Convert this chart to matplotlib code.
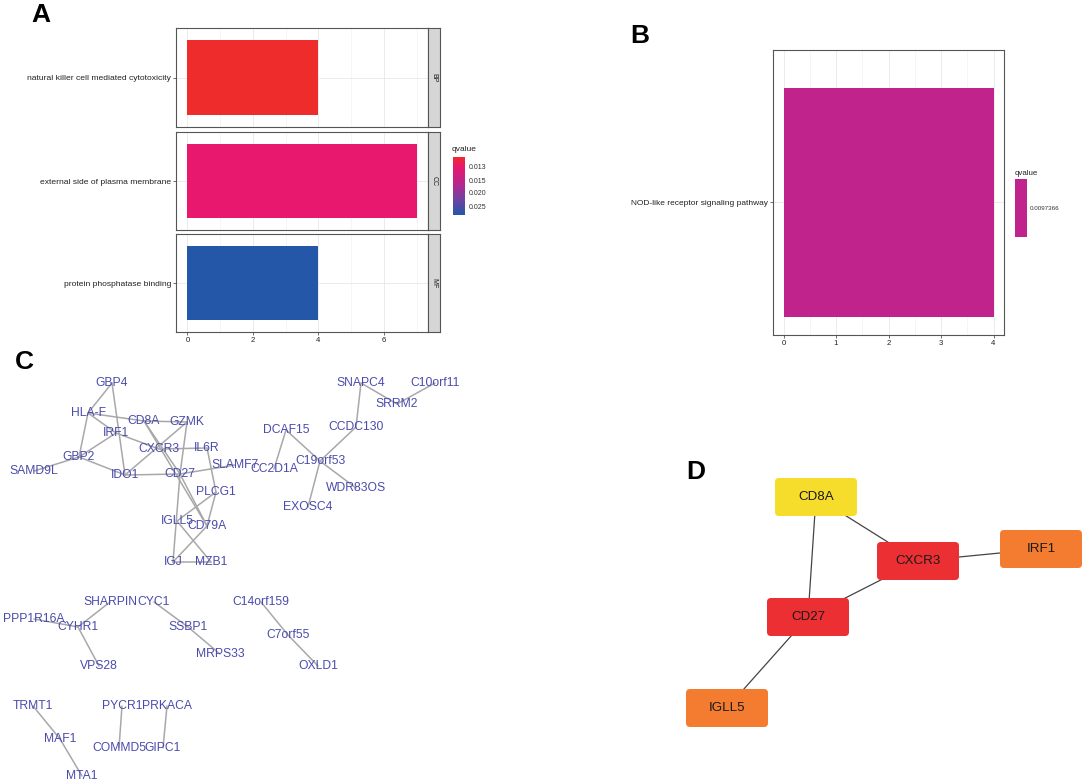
import numpy as np
import matplotlib.pyplot as plt
from matplotlib.colors import LinearSegmentedColormap, Normalize
from matplotlib.patches import FancyBboxPatch, Rectangle

plt.rcParams['font.family'] = ['Liberation Sans', 'DejaVu Sans']

W, H = 1085, 784

# A: GO enrichment
go_terms = ['natural killer cell mediated cytotoxicity',
            'external side of plasma membrane',
            'protein phosphatase binding']
go_ontology = ['BP', 'CC', 'MF']
go_counts = [4, 7, 4]
go_qvalues = [0.0126, 0.0150, 0.0265]
go_qlabels = ['0.013', '0.015', '0.020', '0.025']

# B: KEGG enrichment
kegg_terms = ['NOD-like receptor signaling pathway']
kegg_counts = [4]
kegg_qvalues = [0.0097366]

# C: PPI network (layout in pixels)
ppi_nodes = {
    'GBP4': (112, 383), 'HLA-F': (88, 413), 'CD8A': (144, 421), 'GZMK': (187, 422),
    'IRF1': (116, 433), 'CXCR3': (159, 449), 'IL6R': (207, 448), 'GBP2': (79, 457),
    'SAMD9L': (34, 471), 'SLAMF7': (235, 465), 'IDO1': (125, 475), 'CD27': (180, 474),
    'PLCG1': (216, 492), 'IGLL5': (177, 521), 'CD79A': (207, 526), 'IGJ': (173, 562),
    'MZB1': (211, 562),
    'DCAF15': (286, 430), 'CC2D1A': (274, 469), 'C19orf53': (320, 461),
    'WDR83OS': (356, 488), 'EXOSC4': (308, 507), 'CCDC130': (356, 427),
    'SNAPC4': (361, 383), 'SRRM2': (397, 404), 'C10orf11': (435, 383),
    'SHARPIN': (110, 602), 'CYC1': (154, 602), 'PPP1R16A': (34, 619), 'CYHR1': (78, 627),
    'VPS28': (99, 666), 'SSBP1': (188, 627), 'MRPS33': (220, 654),
    'C14orf159': (261, 602), 'C7orf55': (288, 635), 'OXLD1': (318, 666),
    'TRMT1': (33, 706), 'MAF1': (60, 739), 'MTA1': (82, 776),
    'PYCR1': (122, 706), 'PRKACA': (167, 706), 'COMMD5': (119, 748), 'GIPC1': (163, 748),
}
ppi_edges = [
    ('GBP4', 'HLA-F'), ('GBP4', 'IDO1'), ('HLA-F', 'GBP2'), ('HLA-F', 'CD8A'),
    ('HLA-F', 'IRF1'), ('IRF1', 'CXCR3'), ('IRF1', 'GBP2'), ('GBP2', 'SAMD9L'),
    ('GBP2', 'IDO1'), ('CD8A', 'GZMK'), ('CD8A', 'CD27'), ('CD8A', 'CD79A'),
    ('GZMK', 'IDO1'), ('GZMK', 'CD27'), ('CXCR3', 'IL6R'), ('IDO1', 'CD27'),
    ('CD27', 'SLAMF7'), ('CD27', 'IGJ'), ('IL6R', 'PLCG1'), ('PLCG1', 'CD79A'),
    ('PLCG1', 'IGLL5'), ('CD27', 'CD79A'), ('IGLL5', 'MZB1'), ('CD79A', 'IGJ'),
    ('IGJ', 'MZB1'),
    ('DCAF15', 'CC2D1A'), ('DCAF15', 'C19orf53'), ('C19orf53', 'CCDC130'),
    ('C19orf53', 'WDR83OS'), ('C19orf53', 'EXOSC4'), ('CCDC130', 'SNAPC4'),
    ('SNAPC4', 'SRRM2'), ('SRRM2', 'C10orf11'),
    ('SHARPIN', 'CYHR1'), ('PPP1R16A', 'CYHR1'), ('CYHR1', 'VPS28'),
    ('CYC1', 'SSBP1'), ('SSBP1', 'MRPS33'), ('C14orf159', 'C7orf55'),
    ('C7orf55', 'OXLD1'), ('TRMT1', 'MAF1'), ('MAF1', 'MTA1'),
    ('PYCR1', 'COMMD5'), ('PRKACA', 'GIPC1'),
]

# D: hub genes
hub_genes = ['CD8A', 'CXCR3', 'IRF1', 'CD27', 'IGLL5']
hub_x = [816, 918, 1041, 808, 727]
hub_y = [497, 561, 549, 617, 708]
hub_colors = ['#F6DD2B', '#EC2F33', '#F47C30', '#EC2F33', '#F47C30']
hub_edges = [('CD8A', 'CXCR3'), ('CD8A', 'CD27'), ('CXCR3', 'IRF1'),
             ('CXCR3', 'CD27'), ('CD27', 'IGLL5')]


def px_axes(x0, y0, x1, y1):
    return fig.add_axes([x0 / W, 1 - y1 / H, (x1 - x0) / W, (y1 - y0) / H])


def style_gg(ax):
    ax.set_facecolor('white')
    for s in ax.spines.values():
        s.set_color('#555555')
        s.set_linewidth(0.8)
    ax.grid(True, which='major', color='#E8E8E8', lw=0.6)
    ax.grid(True, which='minor', axis='x', color='#F2F2F2', lw=0.5)
    ax.set_axisbelow(True)
    ax.tick_params(axis='y', length=2, width=0.5, color='#333333', labelsize=6.1,
                   labelcolor='#222222', pad=1.5)
    ax.tick_params(axis='x', length=2, width=0.5, color='#333333', labelsize=5.6,
                   labelcolor='#222222', pad=1.5)
    ax.tick_params(which='minor', length=0)


fig = plt.figure(figsize=(W / 100, H / 100), dpi=100)

# background axes in pixel space for networks and panel letters
bg = fig.add_axes([0, 0, 1, 1])
bg.set_xlim(0, W)
bg.set_ylim(H, 0)
bg.axis('off')

cmap = LinearSegmentedColormap.from_list(
    'q', [(0, '#EE2C2C'), (0.17, '#E8186E'), (0.5, '#B02A8F'),
          (0.75, '#6A45A3'), (1, '#2457A7')])
norm = Normalize(min(go_qvalues), max(go_qvalues))

# ---- Panel A ----
tops = [28, 132, 234]
bots = [127, 230, 332]
for i in range(3):
    ax = px_axes(176, tops[i], 428, bots[i])
    ax.barh([0], [go_counts[i]], height=0.9, color=cmap(norm(go_qvalues[i])))
    ax.set_ylim(-0.6, 0.6)
    ax.set_xlim(-0.35, 7.35)
    ax.set_xticks([0, 2, 4, 6])
    ax.set_xticks([1, 3, 5, 7], minor=True)
    ax.set_yticks([0])
    ax.set_yticklabels([go_terms[i]])
    style_gg(ax)
    if i < 2:
        ax.tick_params(axis='x', labelbottom=False, length=0)
    sax = px_axes(428, tops[i], 440, bots[i])
    sax.set_facecolor('#D6D6D6')
    sax.set_xticks([])
    sax.set_yticks([])
    for s in sax.spines.values():
        s.set_color('#555555')
        s.set_linewidth(0.8)
    sax.text(0.5, 0.5, go_ontology[i], rotation=-90, ha='center', va='center',
             fontsize=5, color='#1a1a1a', transform=sax.transAxes)

# colour legend A
bg.text(452, 149, 'qvalue', fontsize=6, ha='left', va='center', color='#222222')
cax = px_axes(453, 157, 465, 215)
cax.imshow(np.linspace(0, 1, 256).reshape(-1, 1), cmap=cmap, aspect='auto',
           extent=[0, 1, 1, 0])
cax.set_xlim(0, 1)
cax.set_ylim(1, 0)
cax.set_xticks([])
cax.yaxis.tick_right()
cax.set_yticks([0.17, 0.40, 0.62, 0.845])
cax.set_yticklabels(go_qlabels)
cax.tick_params(axis='y', length=0, labelsize=5, pad=3, labelcolor='#333333')
for s in cax.spines.values():
    s.set_visible(False)

# ---- Panel B ----
axb = px_axes(773, 50, 1004, 335)
axb.barh([1], kegg_counts, height=0.9, color='#C1238C')
axb.set_ylim(0.479, 1.599)
axb.set_xlim(-0.2, 4.2)
axb.set_xticks([0, 1, 2, 3, 4])
axb.set_xticks([0.5, 1.5, 2.5, 3.5], minor=True)
axb.set_yticks([1])
axb.set_yticklabels(kegg_terms)
style_gg(axb)
axb.tick_params(axis='y', labelsize=6.0)

bg.text(1015, 173, 'qvalue', fontsize=5.7, ha='left', va='center', color='#222222')
bg.add_patch(Rectangle((1015, 179), 12, 58, color='#C1238C', lw=0))
bg.text(1030, 208, '%.7f' % kegg_qvalues[0], fontsize=4.5, ha='left', va='center',
        color='#333333')

# ---- Panel C ----
for a, b in ppi_edges:
    xa, ya = ppi_nodes[a]
    xb, yb = ppi_nodes[b]
    bg.plot([xa, xb], [ya, yb], color='#A8A8A8', lw=1.1, zorder=1,
            solid_capstyle='round')
for name, (x, y) in ppi_nodes.items():
    bg.text(x, y, name, fontsize=8.7, color='#4B4BAD', ha='center', va='center',
            zorder=2)

# ---- Panel D ----
pos = {g: (x, y) for g, x, y in zip(hub_genes, hub_x, hub_y)}
for a, b in hub_edges:
    bg.plot([pos[a][0], pos[b][0]], [pos[a][1], pos[b][1]], color='#444444',
            lw=0.9, zorder=3)
bw, bh = 82, 38
for g, x, y, c in zip(hub_genes, hub_x, hub_y, hub_colors):
    bg.add_patch(FancyBboxPatch((x - bw / 2, y - bh / 2), bw, bh,
                                boxstyle='round,pad=0,rounding_size=4',
                                fc=c, ec='none', zorder=4))
    bg.text(x, y, g, fontsize=9.6, color='#1a1a1a', ha='center', va='center', zorder=5)

# panel letters
for letter, x, y in [('A', 41, 15), ('B', 640, 36), ('C', 24, 362), ('D', 696, 472)]:
    bg.text(x, y, letter, fontsize=19, fontweight='bold', ha='center', va='center')

fig.savefig('out.png', dpi=100)
